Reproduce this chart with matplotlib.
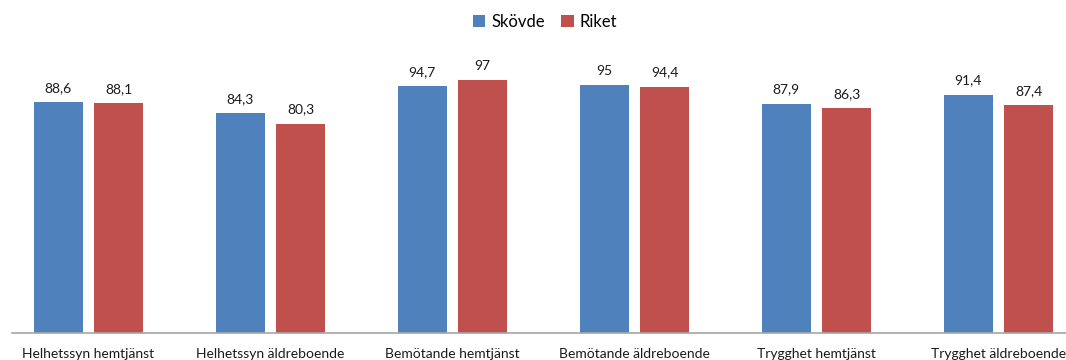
import matplotlib
matplotlib.use("Agg")
import matplotlib.pyplot as plt
import numpy as np

categories = ["Helhetssyn hemtjänst", "Helhetssyn äldreboende", "Bemötande hemtjänst",
              "Bemötande äldreboende", "Trygghet hemtjänst", "Trygghet äldreboende"]
skovde = [88.6, 84.3, 94.7, 95, 87.9, 91.4]
riket = [88.1, 80.3, 97, 94.4, 86.3, 87.4]
series_names = ["Skövde", "Riket"]

BLUE = "#4F81BD"
RED = "#C0504D"

plt.rcParams["font.family"] = ["Lato", "DejaVu Sans"]

W, H = 1066, 360
fig = plt.figure(figsize=(W / 100, H / 100), dpi=100)
ax = fig.add_axes([12 / W, 27 / H, 1 - 12 / W, (333 - 72.3) / H])

x = np.arange(len(categories))
bw = 0.268
off = 0.166
b1 = ax.bar(x - off, skovde, bw, color=BLUE, label=series_names[0])
b2 = ax.bar(x + off, riket, bw, color=RED, label=series_names[1])

def fmt(v):
    return f"{v:g}".replace(".", ",")

for bars, vals in ((b1, skovde), (b2, riket)):
    for rect, v in zip(bars, vals):
        ax.annotate(fmt(v), (rect.get_x() + rect.get_width() / 2, v),
                    xytext=(0, 6), textcoords="offset points",
                    ha="center", va="bottom", fontsize=10, color="#1a1a1a")

ax.set_xlim((12 - 88.5) / 182, (1066 - 88.5) / 182)
ax.set_ylim(0, 100)
ax.set_xticks(x)
ax.set_xticklabels(categories, fontsize=10, color="#1a1a1a")
ax.tick_params(axis="x", length=0, pad=11)
ax.set_yticks([])
for s in ("top", "right", "left"):
    ax.spines[s].set_visible(False)
ax.spines["bottom"].set_color("#A6A6A6")
ax.spines["bottom"].set_linewidth(1.2)

leg = fig.legend(loc="center", bbox_to_anchor=(545 / W, 1 - 22 / H), ncol=2,
                 frameon=False, fontsize=12, handlelength=0.75, handleheight=0.75,
                 handletextpad=0.35, columnspacing=1.0, borderaxespad=0)

fig.savefig("out.png", dpi=100)
